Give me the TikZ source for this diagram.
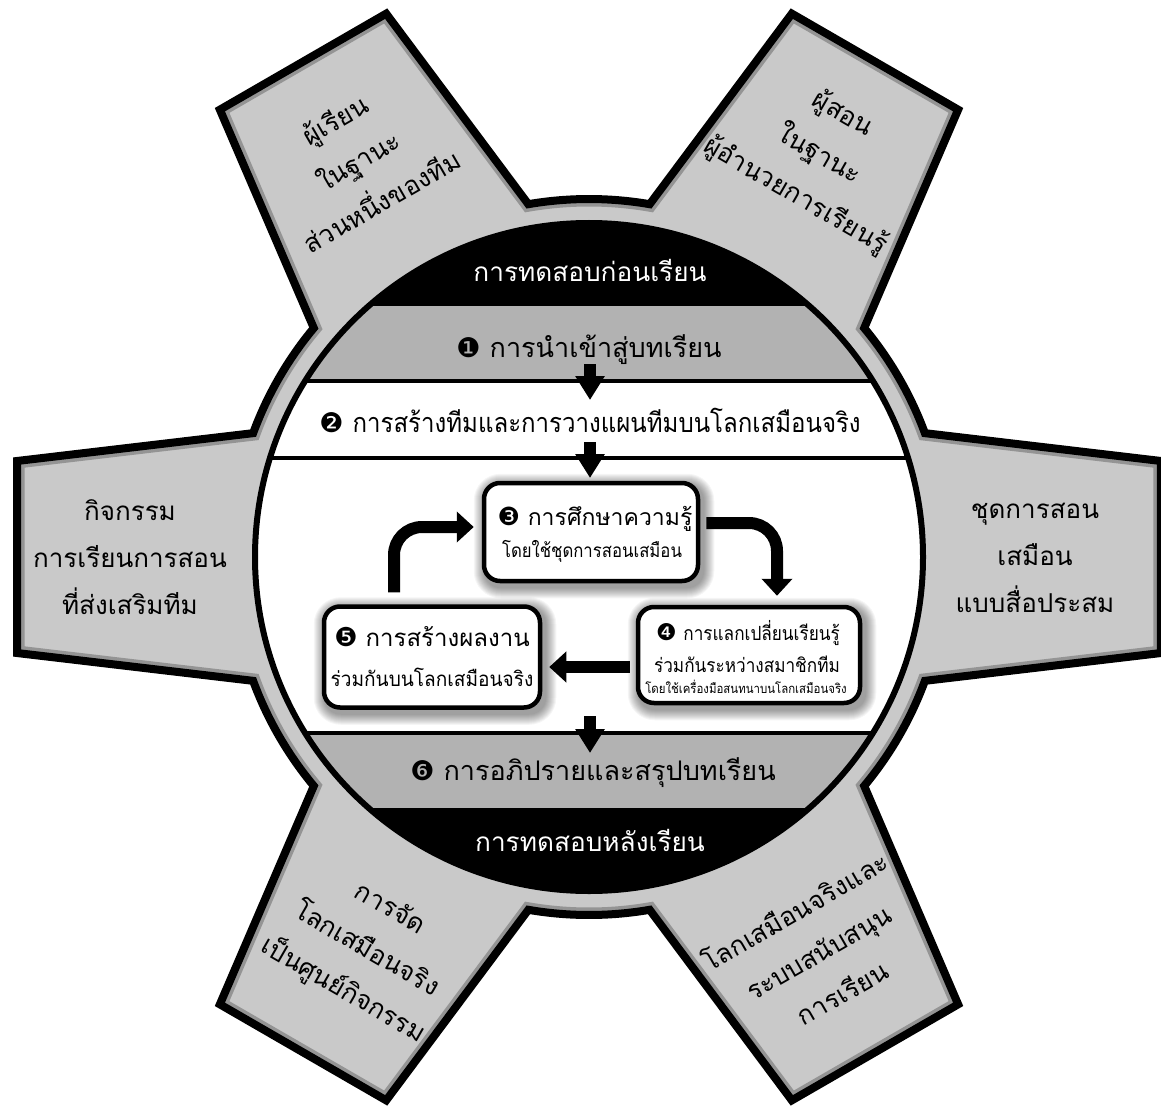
\documentclass[tikz,border=0pt]{standalone}
\usepackage{fontspec}
\setmainfont{Loma}[Script=Thai]
\newfontfamily\dingfont{DejaVu Sans}
\usetikzlibrary{arrows.meta,calc}
\pgfdeclarelayer{base}
\pgfdeclarelayer{shade}
\pgfsetlayers{base,shade,main}

\definecolor{gearfill}{gray}{0.79}
\definecolor{gearedge}{gray}{0.58}
\definecolor{bandgray}{gray}{0.70}

\newcommand\cnum[1]{{\dingfont #1}}
\newcommand\narrow[2]{\scalebox{#1}[1]{#2}}

\begin{document}
\begin{tikzpicture}[x=1pt,y=-1pt,
  bandtxt/.style={anchor=base, font=\fontsize{27}{32}\selectfont},
  toothtxt/.style={align=center, font=\fontsize{26}{47}\selectfont},
  cycbox/.style={draw, line width=4.5pt, rounded corners=16pt, fill=white, inner sep=0pt},
  boxtxt/.style={anchor=base, inner sep=0pt},
  downarrow/.style={line width=12pt, -{Triangle[width=28pt,length=24pt]}},
  cycarrow/.style={line width=12pt, rounded corners=28pt, -{Triangle[width=30pt,length=17pt]}},
]
\useasboundingbox (0,0) rectangle (1161,1107);
\coordinate (C) at (589,557);

% gear body, ring and the banded disc
\begin{pgfonlayer}{base}
\begin{scope}[shift={(C)}]
  \path[save path=\gearp] (-20.24:358)
    \foreach \k in {0,60,...,300} {
      -- ({\k-9.53}:580) -- ({\k+9.53}:580) -- ({\k+20.24}:358)
      arc[start angle={\k+20.24}, end angle={\k+39.76}, radius=358]
    } -- cycle;
  \fill[gearfill, use path=\gearp];
  \begin{scope}
    \clip[use path=\gearp];
    \draw[gearedge, line width=15pt, use path=\gearp];
  \end{scope}
  \draw[line width=8pt, line join=miter, use path=\gearp];
\end{scope}

\begin{scope}
  \clip (C) circle[radius=334];
  \fill[black] (0,0) rectangle (1161,306);
  \fill[bandgray] (0,306) rectangle (1161,381);
  \fill[white] (0,381) rectangle (1161,733);
  \fill[bandgray] (0,733) rectangle (1161,808);
  \fill[black] (0,808) rectangle (1161,1107);
  \draw[line width=4pt] (0,381) -- (1161,381);
  \draw[line width=4pt] (0,458) -- (1161,458);
  \draw[line width=4pt] (0,733) -- (1161,733);
\end{scope}
\draw[line width=6pt] (C) circle[radius=334];
\end{pgfonlayer}

% band labels
\node[bandtxt, text=white, font=\fontsize{26.2}{32}\selectfont] (pre) at (590,281) {การทดสอบก่อนเรียน};
\node[bandtxt] (s1) at (589,357) {\cnum{❶} การนำเข้าสู่บทเรียน};
\node[bandtxt] (s2) at (590,432) {\cnum{❷} \narrow{0.89}{การสร้างทีมและการวางแผนทีมบนโลกเสมือนจริง}};
\node[bandtxt] (s6) at (593,780) {\cnum{❻} การอภิปรายและสรุปบทเรียน};
\node[bandtxt, text=white, font=\fontsize{26.2}{32}\selectfont] (post) at (590,851) {การทดสอบหลังเรียน};

% tooth labels
\node[toothtxt, rotate=30] (tl) at (358,160) {ผู้เรียน\\ในฐานะ\\ส่วนหนึ่งของทีม};
\node[toothtxt, rotate=-30] (tr) at (819,155) {ผู้สอน\\ในฐานะ\\ผู้อำนวยการเรียนรู้};
\node[toothtxt] (lt) at (130,557) {กิจกรรม\\การเรียนการสอน\\ที่ส่งเสริมทีม};
\node[toothtxt] (rt) at (1035,558) {ชุดการสอน\\เสมือน\\แบบสื่อประสม};
\node[toothtxt, rotate=-30] (bl) at (366,950) {การจัด\\โลกเสมือนจริง\\เป็นศูนย์กิจกรรม};
\node[toothtxt, rotate=30] (br) at (818,951) {โลกเสมือนจริงและ\\ระบบสนับสนุน\\การเรียน};

% cycle boxes
\node[cycbox, minimum width=214pt, minimum height=98pt] (b3) at (591,532) {};
\node[cycbox, minimum width=222pt, minimum height=96pt] (b4) at (749,655) {};
\node[cycbox, minimum width=216pt, minimum height=101pt] (b5) at (432,657) {};

\begin{pgfonlayer}{shade}
\foreach \b in {b3,b4,b5} {
  \foreach \s [evaluate=\s as \rr using 16+\s] in {1,...,11} {
    \fill[black, opacity=0.04, rounded corners=\rr pt]
      ($(\b.north west)+(3-\s,4-\s)$) rectangle ($(\b.south east)+(3+\s,4+\s)$);
  }
}
\end{pgfonlayer}

\node[boxtxt, font=\fontsize{23}{28}\selectfont] (t3a) at (595,525) {{\fontsize{25}{28}\selectfont\cnum{❸}} การศึกษาความรู้};
\node[boxtxt, font=\fontsize{19}{22}\selectfont] (t3b) at (592,557) {\narrow{0.88}{โดยใช้ชุดการสอนเสมือน}};
\node[boxtxt, font=\fontsize{19.5}{24}\selectfont] (t4a) at (748,640) {{\fontsize{23}{24}\selectfont\cnum{❹}} \narrow{0.88}{การแลกเปลี่ยนเรียนรู้}};
\node[boxtxt, font=\fontsize{19.5}{24}\selectfont] (t4b) at (747,672) {\narrow{0.88}{ร่วมกันระหว่างสมาชิกทีม}};
\node[boxtxt, font=\fontsize{13}{16}\selectfont] (t4c) at (746,693) {\narrow{0.88}{โดยใช้เครื่องมือสนทนาบนโลกเสมือนจริง}};
\node[boxtxt, font=\fontsize{24}{28}\selectfont] (t5a) at (432,646) {{\fontsize{26}{28}\selectfont\cnum{❺}} การสร้างผลงาน};
\node[boxtxt, font=\fontsize{20.5}{24}\selectfont] (t5b) at (432,686) {\narrow{0.93}{ร่วมกันบนโลกเสมือนจริง}};

% flow between the bands
\coordinate (d1a) at (590,364); \coordinate (d1b) at (590,400);
\coordinate (d2a) at (590,442); \coordinate (d2b) at (590,478);
\coordinate (d3a) at (590,716); \coordinate (d3b) at (590,753);
\draw[downarrow] (d1a) -- (d1b);
\draw[downarrow] (d2a) -- (d2b);
\draw[downarrow] (d3a) -- (d3b);

% the learning cycle
\coordinate (a34s) at ($(b3.east)+(6,-9)$);
\coordinate (a34e) at ($(b4.north)+(28,-9)$);
\coordinate (a45s) at ($(b4.west)+(-6,12)$);
\coordinate (a45e) at ($(b5.east)+(7,10)$);
\coordinate (a53s) at ($(b5.north)+(-38,-12)$);
\coordinate (a53e) at ($(b3.west)+(-8,-5)$);
\draw[cycarrow] (a34s) -| (a34e);
\draw[cycarrow] (a45s) -- (a45e);
\draw[cycarrow] (a53s) |- (a53e);
\end{tikzpicture}
\end{document}
